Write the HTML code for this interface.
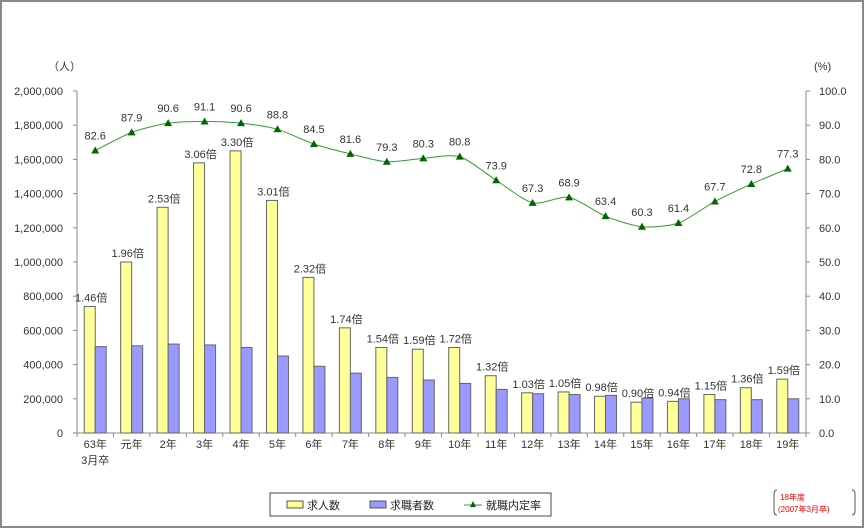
<!DOCTYPE html>
<html><head><meta charset="utf-8"><style>
body{margin:0;background:#fff;}
svg{display:block;font-family:"Liberation Sans","Noto Sans CJK JP",sans-serif;}
</style></head><body>
<svg id="chart" width="865" height="529" xmlns="http://www.w3.org/2000/svg">
<rect x="1" y="1" width="862" height="526" fill="#fff" stroke="#888" stroke-width="2"/>
<g id="plot"></g>
<text x="48" y="70" font-size="11" fill="#333">（人）</text>
<text x="814" y="70" font-size="11" fill="#333">(%)</text>
<g>
<rect x="270" y="493" width="281" height="23" fill="#fff" stroke="#444" stroke-width="1"/>
<g><rect x="287" y="501" width="16" height="7" fill="#ffff99" stroke="#555"/><text x="307" y="509" font-size="11" fill="#222">求人数</text></g>
<g><rect x="370" y="501" width="16" height="7" fill="#9999ff" stroke="#555"/><text x="390" y="509" font-size="11" fill="#222">求職者数</text></g>
<g><line x1="464" y1="505" x2="482" y2="505" stroke="#339933"/><polygon points="473,501 476,507 470,507" fill="#006600"/><text x="486" y="509" font-size="11" fill="#222">就職内定率</text></g>
</g>
<g>
<path d="M777,490 q-3,0 -3,4 v17 q0,4 3,4" fill="none" stroke="#555"/>
<path d="M852,490 q3,0 3,4 v17 q0,4 -3,4" fill="none" stroke="#555"/>
<text x="780" y="500" font-size="8" fill="#ff0000">18年度</text>
<text x="778" y="512" font-size="8" fill="#ff0000">(2007年3月卒)</text>
</g>
</svg>
<script>
const categories=["63年","元年","2年","3年","4年","5年","6年","7年","8年","9年","10年","11年","12年","13年","14年","15年","16年","17年","18年","19年"];
const jobOpenings=[740000,1000000,1320000,1580000,1650000,1360000,910000,615000,500000,490000,500000,335000,235000,240000,215000,180000,185000,225000,265000,315000];
const jobSeekers=[505000,510000,520000,515000,500000,450000,390000,350000,325000,310000,290000,255000,230000,225000,220000,205000,200000,195000,195000,200000];
const ratios=["1.46","1.96","2.53","3.06","3.30","3.01","2.32","1.74","1.54","1.59","1.72","1.32","1.03","1.05","0.98","0.90","0.94","1.15","1.36","1.59"];
const rates=[82.6,87.9,90.6,91.1,90.6,88.8,84.5,81.6,79.3,80.3,80.8,73.9,67.3,68.9,63.4,60.3,61.4,67.7,72.8,77.3];
const leftTicks=[0,200000,400000,600000,800000,1000000,1200000,1400000,1600000,1800000,2000000];
const rightTicks=[0,10,20,30,40,50,60,70,80,90,100];

const NS="http://www.w3.org/2000/svg";
const g=document.getElementById('plot');
const L=77,R=806,T=91,B=433;
const bw=(R-L)/categories.length;
const xC=i=>L+bw*(i+0.5);
const yL=v=>B-(v/2000000)*(B-T);
const yR=v=>B-(v/100)*(B-T);
function mk(tag,attrs,parent){const e=document.createElementNS(NS,tag);for(const k in attrs)e.setAttribute(k,attrs[k]);(parent||g).appendChild(e);return e;}
const fmt=n=>n.toLocaleString('en-US');

let ax=mk('line',{x1:L,y1:T,x2:L,y2:B,stroke:'#888'});


ax=mk('line',{x1:R,y1:T,x2:R,y2:B,stroke:'#888'});


ax=mk('line',{x1:L,y1:B,x2:R,y2:B,stroke:'#888'});


leftTicks.forEach(v=>{
  mk('line',{x1:L-4,y1:yL(v),x2:L,y2:yL(v),stroke:'#888'});
  const t=mk('text',{x:L-14,y:yL(v)+4,'font-size':11,fill:'#333','text-anchor':'end'});
  t.textContent=fmt(v);
  
  
});
rightTicks.forEach(v=>{
  mk('line',{x1:R,y1:yR(v),x2:R+4,y2:yR(v),stroke:'#888'});
  const t=mk('text',{x:R+13,y:yR(v)+4,'font-size':11,fill:'#333'});
  t.textContent=v.toFixed(1);
  
  
});
for(let i=0;i<=categories.length;i++){mk('line',{x1:L+bw*i,y1:B,x2:L+bw*i,y2:B+4,stroke:'#888'});}

categories.forEach((c,i)=>{
  const x=xC(i);
  const b1=mk('rect',{x:x-11,y:yL(jobOpenings[i]),width:11,height:B-yL(jobOpenings[i]),fill:'#ffff99',stroke:'#666','stroke-width':1});
  
  
  const b2=mk('rect',{x:x,y:yL(jobSeekers[i]),width:11,height:B-yL(jobSeekers[i]),fill:'#9999ff',stroke:'#666','stroke-width':1});
  
  
  const rl=mk('text',{x:x-4,y:yL(jobOpenings[i])-5,'font-size':11,fill:'#333','text-anchor':'middle'});
  rl.textContent=ratios[i]+'倍';
  
  
  const cl=mk('text',{x:x,y:448,'font-size':11,fill:'#333','text-anchor':'middle'});
  cl.textContent=c;
  
  
});
const sub=mk('text',{x:xC(0),y:464,'font-size':11,fill:'#333','text-anchor':'middle'});
sub.textContent='3月卒';



const pts=rates.map((v,i)=>[xC(i),yR(v)]);
let d='M'+pts[0][0]+','+pts[0][1];
for(let i=0;i<pts.length-1;i++){
  const p0=pts[Math.max(0,i-1)],p1=pts[i],p2=pts[i+1],p3=pts[Math.min(pts.length-1,i+2)];
  const c1=[p1[0]+(p2[0]-p0[0])/8,p1[1]+(p2[1]-p0[1])/8];
  const c2=[p2[0]-(p3[0]-p1[0])/8,p2[1]-(p3[1]-p1[1])/8];
  d+=' C'+c1+' '+c2+' '+p2;
}
const line=mk('path',{d:d,fill:'none',stroke:'#339933','stroke-width':1});


rates.forEach((v,i)=>{
  const x=xC(i),y=yR(v);
  const m=mk('polygon',{points:`${x},${y-4} ${x+4},${y+3} ${x-4},${y+3}`,fill:'#006600'});
  
  
  const t=mk('text',{x:x,y:y-11,'font-size':11,fill:'#333','text-anchor':'middle'});
  t.textContent=v.toFixed(1);
  
  
});
</script>
</body></html>
